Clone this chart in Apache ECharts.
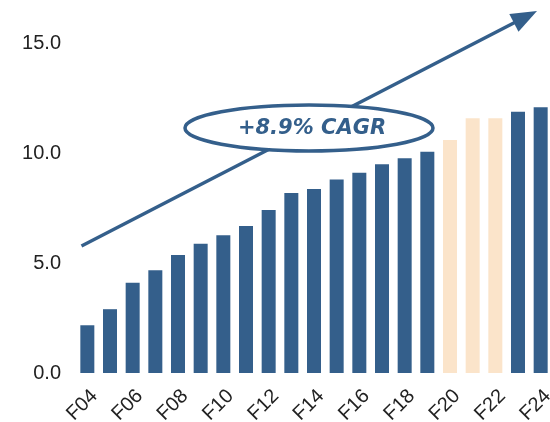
<!DOCTYPE html>
<html>
<head>
<meta charset="utf-8">
<script src="https://cdn.jsdelivr.net/npm/echarts@6/dist/echarts.min.js"></script>
<style>
  html, body { margin: 0; padding: 0; background: #fff; }
  #chart { width: 550px; height: 422px; }
</style>
</head>
<body>
<div id="chart"></div>
<script>
// Fiscal years
const years = ['F04','F05','F06','F07','F08','F09','F10','F11','F12','F13','F14',
               'F15','F16','F17','F18','F19','F20','F21','F22','F23','F24'];
// Yearly values
const values = [2.17, 2.9, 4.1, 4.67, 5.36, 5.88, 6.26, 6.68, 7.41, 8.18, 8.36,
                8.8, 9.1, 9.49, 9.76, 10.06, 10.59, 11.58, 11.58, 11.88, 12.08];
// Years shown in the lighter tone
const highlighted = ['F20', 'F21', 'F22'];
const yTicks = [0, 5, 10, 15];
const cagrText = '+8.9% CAGR';

const BLUE = '#345f8b';
const PEACH = '#fbe4ca';

const chart = echarts.init(document.getElementById('chart'));

// Growth arrow geometry
const ux = 454.5, uy = -235, ul = Math.hypot(ux, uy);
const dx = ux / ul, dy = uy / ul;
const tip = [537, 11];
const headLen = 26, headHalf = 10;
const base = [tip[0] - headLen * dx, tip[1] - headLen * dy];

chart.setOption({
  animation: false,
  grid: { left: 76, right: -2, top: 43, bottom: 49, containLabel: false, outerBoundsMode: 'none' },
  xAxis: {
    type: 'category',
    data: years,
    axisLine: { show: false },
    axisTick: { show: false },
    axisLabel: {
      interval: 1,
      rotate: 45,
      margin: 13,
      verticalAlign: 'top',
      fontSize: 20,
      color: '#222',
      fontFamily: 'Liberation Sans, Arial, sans-serif'
    }
  },
  yAxis: {
    type: 'value',
    min: yTicks[0],
    max: yTicks[yTicks.length - 1],
    interval: yTicks[1] - yTicks[0],
    splitLine: { show: false },
    axisLine: { show: false },
    axisTick: { show: false },
    axisLabel: {
      margin: 15,
      fontSize: 20,
      color: '#222',
      fontFamily: 'Liberation Sans, Arial, sans-serif',
      formatter: v => v.toFixed(1)
    }
  },
  series: [{
    type: 'bar',
    barWidth: 14,
    data: values.map((v, i) => ({
      value: v,
      itemStyle: { color: highlighted.includes(years[i]) ? PEACH : BLUE }
    }))
  }],
  graphic: [
    {
      type: 'line',
      shape: { x1: 81.5, y1: 246, x2: base[0] + 2 * dx, y2: base[1] + 2 * dy },
      style: { stroke: BLUE, lineWidth: 3.5 },
      z: 10
    },
    {
      type: 'polygon',
      shape: {
        points: [
          tip,
          [base[0] - headHalf * dy, base[1] + headHalf * dx],
          [base[0] + headHalf * dy, base[1] - headHalf * dx]
        ]
      },
      style: { fill: BLUE },
      z: 10
    },
    {
      type: 'ellipse',
      shape: { cx: 309, cy: 128, rx: 124, ry: 23 },
      style: { fill: '#fff', stroke: BLUE, lineWidth: 3.5 },
      z: 11
    },
    {
      type: 'text',
      x: 312,
      y: 129,
      style: {
        text: cagrText,
        fill: BLUE,
        font: 'italic bold 21px "DejaVu Sans", sans-serif',
        align: 'center',
        verticalAlign: 'middle'
      },
      z: 12
    }
  ]
});
</script>
</body>
</html>
